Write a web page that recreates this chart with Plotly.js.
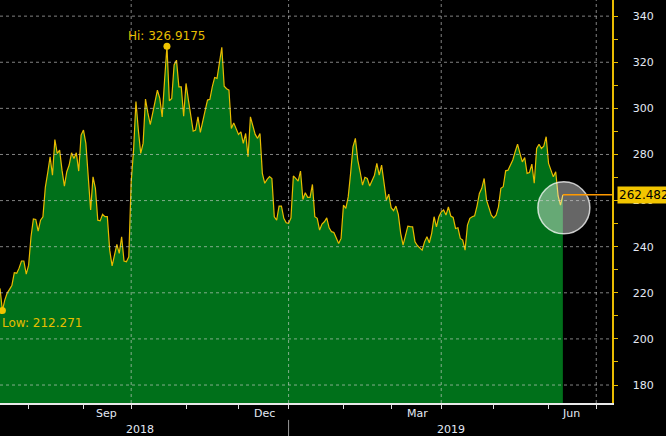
<!DOCTYPE html>
<html>
<head>
<meta charset="utf-8">
<script src="https://cdn.plot.ly/plotly-3.0.1.min.js"></script>
<style>
  html, body { margin: 0; padding: 0; background: #000; }
  #chart { width: 666px; height: 436px; }
</style>
</head>
<body>
<div id="chart"></div>
<script>
// daily closes, one per weekday starting 2018-07-16
let firstDay = "2018-07-16";
let closes = [
  221.9, 212.271, 216.8, 219.9, 221.5, 223.3, 228.7, 228.5, 230.7, 233.8,
  233.8, 228.1, 232.0, 244.3, 252.0, 251.8, 246.8, 251.5, 253.0, 265.7,
  272.0, 279.0, 271.0, 286.5, 280.5, 281.9, 273.2, 266.3, 272.5, 275.4,
  280.7, 278.3, 280.7, 272.8, 288.4, 290.6, 284.8, 268.9, 255.9, 270.3,
  265.3, 251.5, 251.2, 254.0, 253.0, 253.0, 238.5, 231.7, 237.1, 241.0,
  237.1, 244.3, 233.8, 233.5, 235.6, 268.0, 281.9, 303.0, 290.6, 280.5,
  284.8, 304.0, 298.0, 293.0, 297.8, 303.0, 307.9, 304.3, 296.3, 312.2,
  326.9175, 303.3, 304.3, 318.8, 320.9, 309.3, 309.3, 296.6, 310.8, 303.6,
  296.3, 290.1, 290.6, 296.3, 289.6, 294.9, 299.0, 303.6, 303.9, 309.3,
  313.4, 313.0, 320.9, 326.5, 309.6, 308.5, 307.9, 291.3, 293.7, 291.3,
  288.7, 289.8, 284.8, 289.1, 279.0, 296.3, 292.0, 288.7, 287.0, 289.1,
  271.8, 267.5, 269.2, 270.4, 269.6, 253.0, 251.5, 257.6, 257.6, 252.3,
  250.4, 250.1, 252.5, 270.7, 269.6, 268.4, 272.8, 260.5, 263.4, 261.4,
  261.4, 267.0, 253.0, 252.3, 247.2, 249.8, 250.8, 252.5, 248.2, 246.5,
  246.2, 243.6, 241.4, 243.6, 258.0, 256.6, 261.6, 271.8, 283.3, 287.0,
  277.6, 272.5, 266.7, 270.1, 269.6, 266.3, 268.5, 271.0, 276.1, 271.0,
  275.4, 267.5, 260.2, 262.8, 256.9, 255.6, 257.6, 254.0, 245.8, 240.7,
  245.0, 248.9, 248.7, 248.6, 242.1, 240.5, 239.5, 238.5, 242.1, 244.3,
  241.7, 245.8, 253.0, 248.6, 253.0, 255.1, 255.9, 253.7, 257.3, 253.3,
  252.7, 247.9, 248.2, 243.6, 242.9, 238.5, 249.4, 252.3, 253.0, 253.4,
  257.6, 263.1, 265.3, 269.6, 260.2, 257.3, 253.7, 252.5, 253.7, 257.3,
  265.3, 266.0, 272.9, 273.2, 275.5, 277.6, 281.2, 284.5, 280.5, 276.8,
  278.7, 271.8, 272.2, 275.8, 267.5, 282.6, 284.4, 282.6, 283.6, 287.7,
  276.1, 273.5, 270.3, 272.5, 262.0, 258.0, 262.482
];

let yTicks = [180, 200, 220, 240, 260, 280, 300, 320, 340];
let monthTicks = ["2018-08-01", "2018-09-03", "2018-10-01", "2018-11-01", "2018-12-03", "2019-01-01",
                  "2019-02-01", "2019-03-01", "2019-04-01", "2019-05-01", "2019-06-03", "2019-07-01"];
let quarterLines = ["2018-10-01", "2019-01-01", "2019-04-01", "2019-07-01"];
let monthLabels = ["Sep", "Dec", "Mar", "Jun"];
let monthLabelAt = ["2018-09-14 12:00", "2018-12-17 18:00", "2019-03-18 06:00", "2019-06-14 09:00"];
let yearLabels = ["2018", "2019"];
let yearLabelAt = ["2018-10-04 17:00", "2019-04-05 02:00"];
let yearSplit = "2019-01-01";

let xRange = ["2018-07-16", "2019-07-09 14:24"];
let yRange = [172.2, 347];

const GREEN = "#00701a";
const GOLD = "#e8bb00";
const LABEL = "#e3e9f4";

function tradingDays(start, n) {
  let out = [];
  let d = new Date(start + "T00:00:00Z");
  while (out.length < n) {
    let w = d.getUTCDay();
    if (w !== 0 && w !== 6) out.push(d.toISOString().slice(0, 10));
    d.setUTCDate(d.getUTCDate() + 1);
  }
  return out;
}

let dates = tradingDays(firstDay, closes.length);
let hiVal = Math.max(...closes);
let loVal = Math.min(...closes);
let hiDate = dates[closes.indexOf(hiVal)];
let loDate = dates[closes.indexOf(loVal)];
let lastVal = closes[closes.length - 1];
let lastDate = dates[dates.length - 1];

let area = {
  x: dates,
  y: closes,
  type: "scatter",
  mode: "lines",
  fill: "tozeroy",
  fillcolor: GREEN,
  line: { color: GOLD, width: 1.2 },
  hoverinfo: "skip",
};

let extremes = {
  x: [hiDate, loDate],
  y: [hiVal, loVal],
  type: "scatter",
  mode: "markers",
  marker: { color: "#f0c400", size: 7 },
  cliponaxis: false,
  hoverinfo: "skip",
};

// yellow arrow heads on the price axis
let axisMarks = {
  x: yTicks.map(() => 1.0065),
  y: yTicks,
  xaxis: "x2",
  type: "scatter",
  mode: "markers",
  marker: { symbol: "triangle-right", color: GOLD, size: 9 },
  cliponaxis: false,
  hoverinfo: "skip",
};

let lastMark = {
  x: [1.0085],
  y: [lastVal],
  xaxis: "x2",
  type: "scatter",
  mode: "markers",
  marker: { symbol: "triangle-left", color: "#f2c500", size: 13 },
  cliponaxis: false,
  hoverinfo: "skip",
};

let shapes = [];
shapes.push({
  type: "circle",
  xref: "x", yref: "y",
  xsizemode: "pixel", ysizemode: "pixel",
  xanchor: lastDate, yanchor: lastVal,
  x0: -25, x1: 27, y0: -39, y1: 13,
  fillcolor: "rgba(255,255,255,0.4)",
  line: { color: "rgba(255,255,255,0.75)", width: 1.5 },
  layer: "above",
});
shapes.push({
  type: "line",
  xref: "x", yref: "y",
  x0: lastDate, x1: xRange[1], y0: lastVal, y1: lastVal,
  line: { color: "#ff9a00", width: 1.5 },
  layer: "above",
});
for (let v of yTicks) {
  shapes.push({
    type: "line", xref: "paper", yref: "y",
    x0: 0, x1: 1, y0: v, y1: v,
    line: { color: "rgba(215,215,215,0.6)", width: 1, dash: "3px,3px" },
    layer: "above",
  });
}
for (let d of quarterLines) {
  shapes.push({
    type: "line", xref: "x", yref: "paper",
    x0: d, x1: d, y0: 0, y1: 1,
    line: { color: "rgba(215,215,215,0.6)", width: 1, dash: "3px,3px" },
    layer: "above",
  });
}
shapes.push({
  type: "line", xref: "x", yref: "paper",
  x0: yearSplit, x1: yearSplit, y0: -0.042, y1: -0.085,
  line: { color: "#9a9a9a", width: 1 },
});

let annotations = [];
annotations.push({
  x: hiDate, y: hiVal, xref: "x", yref: "y",
  text: "Hi: " + hiVal, showarrow: false,
  xanchor: "center", yanchor: "bottom", yshift: 1,
  font: { color: "#e6be00", size: 12 },
});
annotations.push({
  x: loDate, y: loVal, xref: "x", yref: "y",
  text: "Low: " + loVal, showarrow: false,
  xanchor: "left", yanchor: "top", xshift: -2, yshift: -3,
  font: { color: "#e6be00", size: 12 },
});
annotations.push({
  x: 1, y: lastVal, xref: "paper", yref: "y",
  text: lastVal.toFixed(3), showarrow: false,
  xanchor: "left", xshift: 5,
  bgcolor: "#f2c500", borderpad: 1,
  font: { color: "#000", size: 12 },
});
for (let i = 0; i < monthLabels.length; i++) {
  annotations.push({
    x: monthLabelAt[i], y: 0, xref: "x", yref: "paper",
    text: monthLabels[i], showarrow: false,
    xanchor: "center", yanchor: "top", yshift: -2,
    font: { color: LABEL, size: 11 },
  });
}
for (let i = 0; i < yearLabels.length; i++) {
  annotations.push({
    x: yearLabelAt[i], y: 0, xref: "x", yref: "paper",
    text: yearLabels[i], showarrow: false,
    xanchor: "center", yanchor: "top", yshift: -18,
    font: { color: LABEL, size: 11 },
  });
}

let layout = {
  width: 666,
  height: 436,
  margin: { l: 0, r: 54, t: 0, b: 33 },
  paper_bgcolor: "#000",
  plot_bgcolor: "#000",
  showlegend: false,
  font: { family: "DejaVu Sans", color: LABEL, size: 11 },
  xaxis: {
    type: "date",
    range: xRange,
    rangebreaks: [{ bounds: ["sat", "mon"] }],
    showgrid: false,
    zeroline: false,
    tickmode: "array",
    tickvals: monthTicks,
    showticklabels: false,
    ticks: "outside",
    ticklen: 4,
    tickcolor: "#dddddd",
    showline: true,
    linecolor: "#e8e8e8",
    linewidth: 1.5,
    fixedrange: true,
  },
  xaxis2: {
    overlaying: "x",
    range: [0, 1],
    visible: false,
    fixedrange: true,
  },
  yaxis: {
    side: "right",
    range: yRange,
    showgrid: false,
    zeroline: false,
    tickmode: "array",
    tickvals: yTicks,
    ticks: "outside",
    ticklen: 8,
    tickcolor: "rgba(0,0,0,0)",
    ticklabelstandoff: 9,
    tickfont: { color: LABEL, size: 11 },
    minor: { dtick: 10, tick0: 0, ticks: "outside", ticklen: 4, tickcolor: GOLD, showgrid: false },
    showline: true,
    linecolor: GOLD,
    linewidth: 1.5,
    fixedrange: true,
  },
  shapes: shapes,
  annotations: annotations,
};

Plotly.newPlot("chart", [area, extremes, axisMarks, lastMark], layout, { displayModeBar: false, staticPlot: true });
</script>
</body>
</html>
